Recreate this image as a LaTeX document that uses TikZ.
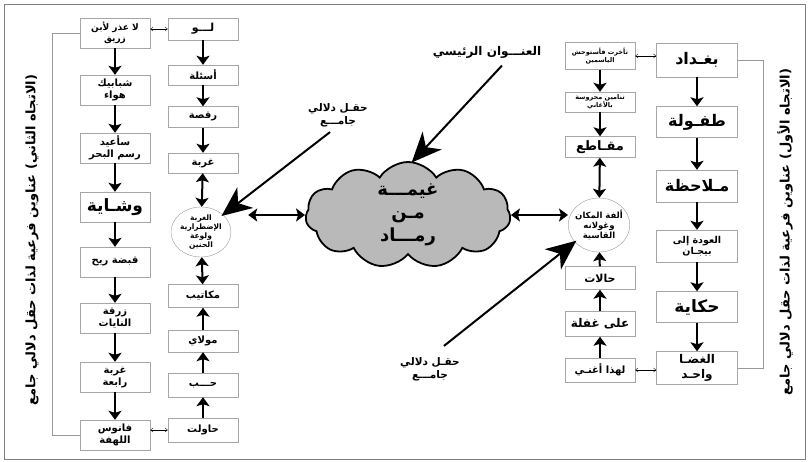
\documentclass[tikz,border=0pt]{standalone}
\usepackage{fontspec}
\usepackage{tikz}
\usetikzlibrary{arrows.meta,shapes.geometric,shapes.symbols}
\newfontfamily\arabicfont[Script=Arabic]{DejaVu Sans}
\TeXXeTstate=1
\newcommand\artxt[1]{\beginR #1\endR}
\newcommand\fs[1]{\fontsize{#1}{1.2\dimexpr#1pt\relax}\selectfont}

\begin{document}
\begin{tikzpicture}[x=1pt,y=-1pt,font=\arabicfont\bfseries]
    \tikzset{sz/.style={font=\arabicfont\bfseries\fs{#1}}}
    \tikzstyle{tbox} = [rectangle, draw=gray!70, fill=white, align=center, inner sep=1pt, minimum width=70pt]
    \tikzstyle{bigbox} = [tbox, minimum width=81pt]
    \tikzstyle{ell} = [ellipse, draw=gray!80, fill=white, align=center, inner sep=0pt, minimum width=60pt]
    \tikzstyle{dn} = [-{Stealth[length=9pt,width=13pt,inset=2pt]}, line width=2pt]
    \tikzstyle{dbl} = [{Stealth[length=9pt,width=13pt,inset=2pt]}-{Stealth[length=9pt,width=13pt,inset=2pt]}, line width=2pt]
    \tikzstyle{link} = [{Straight Barb[length=2.5pt,width=4pt]}-{Straight Barb[length=2.5pt,width=4pt]}, thin]
    \tikzstyle{bigarr} = [-{Stealth[length=30pt,width=26pt,inset=9pt]}, line width=2pt, shorten >=-2pt]
    \tikzstyle{brace} = [gray!80, thin]
    \useasboundingbox (0,0) rectangle (808,462);
    \draw[gray] (4,4) rectangle (805,459);
    % left: second direction
    \node[tbox, sz=9, minimum height=30pt] (a1) at (115,33) {\artxt{لا عذر لأبن}\\\artxt{زريق}};
    \node[tbox, sz=10, minimum height=30pt] (a2) at (115,90) {\artxt{شبابيك}\\\artxt{هواء}};
    \node[tbox, sz=10, minimum height=30pt] (a3) at (115,148) {\artxt{سأعيد}\\\artxt{رسم البحر}};
    \node[tbox, sz=17, minimum height=30pt] (a4) at (115,207) {\artxt{وشـاية}};
    \node[tbox, sz=10, minimum height=30pt] (a5) at (115,262) {\artxt{قبضة ريح}};
    \node[tbox, sz=10, minimum height=30pt] (a6) at (115,318) {\artxt{زرقة}\\\artxt{النايات}};
    \node[tbox, sz=10, minimum height=30pt] (a7) at (115,377) {\artxt{غربة}\\\artxt{رابعة}};
    \node[tbox, sz=10, minimum height=30pt] (a8) at (115,435) {\artxt{فانوس}\\\artxt{اللهفة}};
    \node[tbox, sz=11, minimum height=22pt] (b1) at (203,29) {\artxt{لـــو}};
    \node[tbox, sz=10, minimum height=20pt] (b2) at (203,75) {\artxt{أسئلة}};
    \node[tbox, sz=10, minimum height=21pt] (b3) at (203,117) {\artxt{رقصة}};
    \node[tbox, sz=10, minimum height=20pt] (b4) at (203,163) {\artxt{غربة}};
    \node[ell, sz=7.5, inner sep=-2pt, minimum height=50pt] (lell) at (201,232) {\artxt{الغربة}\\\artxt{الإضطرارية}\\\artxt{ولوعة}\\\artxt{الحنين}};
    \node[tbox, sz=10, minimum height=23pt] (b5) at (203,296) {\artxt{مكاتيب}};
    \node[tbox, sz=10, minimum height=22pt] (b6) at (203,341) {\artxt{مولاي}};
    \node[tbox, sz=10, minimum height=24pt] (b7) at (203,385) {\artxt{حـــب}};
    \node[tbox, sz=10, minimum height=24pt] (b8) at (203,430) {\artxt{حاولت}};
    \node[rotate=90, sz=13] (lside) at (32,240) {\artxt{(الاتجاه الثاني) عناوين فرعية لذات حقل دلالي جامع}};
    \draw[brace] (a1.west) -- ++(-28,0) |- (a8.west);
    \draw[link] (a1.east |- b1) -- (b1.west); \draw[link] (a8.east |- b8) -- (b8.west);
    \draw[dn] (a1) -- (a2); \draw[dn] (a2) -- (a3); \draw[dn] (a3) -- (a4); \draw[dn] (a4) -- (a5);
    \draw[dn] (a5) -- (a6); \draw[dn] (a6) -- (a7); \draw[dn] (a7) -- (a8);
    \draw[dn] (b1) -- (b2); \draw[dn] (b2) -- (b3); \draw[dn] (b3) -- (b4);
    \draw[dbl] (b4) -- (lell); \draw[dbl] (lell) -- (b5);
    \draw[dn] (b8) -- (b7); \draw[dn] (b7) -- (b6); \draw[dn] (b6) -- (b5);
    % right: first direction
    \node[tbox, sz=6.5, minimum height=27pt] (c1) at (600,56) {\artxt{تأخرت فأستوحش}\\\artxt{الياسمين}};
    \node[tbox, sz=6.5, minimum height=20pt] (c2) at (600,102) {\artxt{تنامين محروسة}\\\artxt{بالأغاني}};
    \node[tbox, sz=13, minimum height=21pt] (c3) at (600,147) {\artxt{مقـاطع}};
    \node[ell, sz=8.5, inner sep=-2pt, minimum height=54pt] (rell) at (599,225) {\artxt{ألفة المكان}\\\artxt{وغولانه}\\\artxt{القاسية}};
    \node[tbox, sz=11, minimum height=23pt] (c4) at (600,278) {\artxt{حالات}};
    \node[tbox, sz=12, minimum height=25pt] (c5) at (600,324) {\artxt{على غفلة}};
    \node[tbox, sz=10, minimum height=24pt] (c6) at (600,370) {\artxt{لهذا أغنـي}};
    \node[bigbox, sz=16, minimum height=34pt] (d1) at (697,60) {\artxt{بغـداد}};
    \node[bigbox, sz=16, minimum height=31pt] (d2) at (697,122) {\artxt{طفـولة}};
    \node[bigbox, sz=16, minimum height=32pt] (d3) at (697,186) {\artxt{مـلاحظة}};
    \node[bigbox, sz=9.5, minimum height=32pt] (d4) at (697,246) {\artxt{العودة إلى}\\\artxt{بيجـان}};
    \node[bigbox, sz=17, minimum height=31pt] (d5) at (697,307) {\artxt{حكاية}};
    \node[bigbox, sz=12, minimum height=33pt] (d6) at (697,368) {\artxt{الغضـا}\\\artxt{واحـد}};
    \node[rotate=90, sz=13] (rside) at (785,232) {\artxt{(الاتجاه الأول) عناوين فرعية لذات حقل دلالي جامع}};
    \draw[brace] (d1.east) -- ++(25,0) |- (d6.east);
    \draw[link] (c1.east) -- (c1.east -| d1.west); \draw[link] (c6.east) -- (c6.east -| d6.west);
    \draw[dn] (d1) -- (d2); \draw[dn] (d2) -- (d3); \draw[dn] (d3) -- (d4); \draw[dn] (d4) -- (d5); \draw[dn] (d5) -- (d6);
    \draw[dn] (c1) -- (c2); \draw[dn] (c2) -- (c3); \draw[dbl] (c3) -- (rell);
    \draw[dn] (c6) -- (c5); \draw[dn] (c5) -- (c4); \draw[dn] (c4) -- (rell);
    % centre
    \node[cloud, cloud puffs=11, cloud puff arc=115, aspect=2, draw, line width=1.8pt, fill=gray!55,
          minimum width=205pt, minimum height=106pt, align=center, inner xsep=0pt, inner ysep=-3pt,
          font=\arabicfont\bfseries\fontsize{18}{23}\selectfont] (cloud) at (408,215)
          {\artxt{غيمـــة}\\\artxt{مـن}\\\artxt{رمـــاد}};
    \node[sz=12] (t1) at (487,52) {\artxt{العنـــوان الرئيسي}};
    \node[align=center, sz=10.5] (t2) at (338,115) {\artxt{حقـل دلالي}\\\artxt{جامـــع}};
    \node[align=center, sz=10.5] (t3) at (430,369) {\artxt{حقـل دلالي}\\\artxt{جامـــع}};
    \draw[bigarr] ([xshift=15pt,yshift=-4pt]t1.south) -- ([xshift=5pt]cloud.north);
    \draw[bigarr] ([xshift=-8pt,yshift=-2pt]t2.south) -- (lell.38);
    \draw[bigarr] ([xshift=14pt,yshift=8pt]t3.north) -- (rell.215);
    \draw[dbl, shorten >=17pt] (cloud.west) -- (cloud.west -| lell.east);
    \draw[dbl] (cloud.east) -- (cloud.east -| rell.west);
\end{tikzpicture}
\end{document}
